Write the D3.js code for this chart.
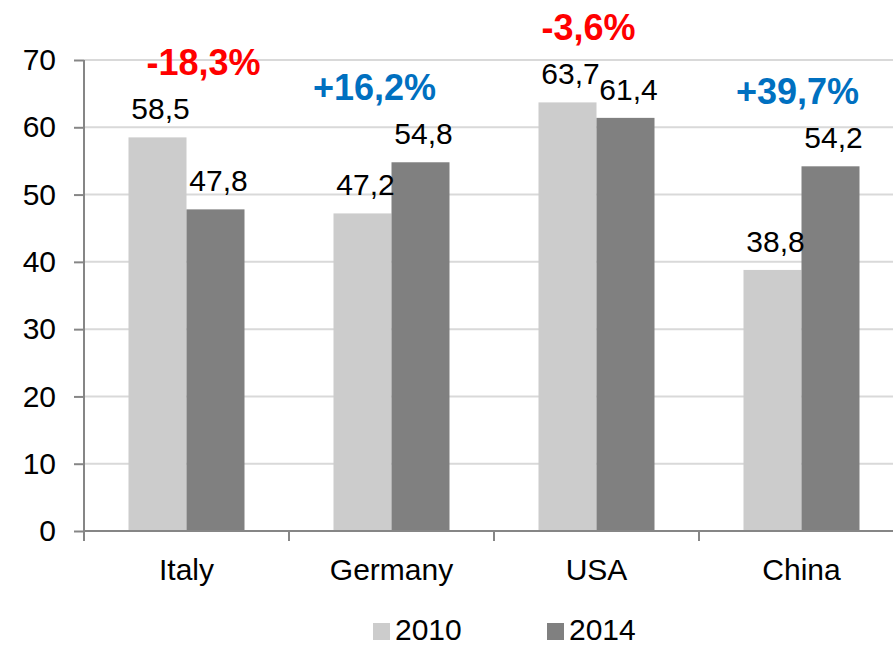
<!DOCTYPE html>
<html lang="en">
    <head>
        <meta charset="utf-8">
        <title>2010 vs 2014</title>
        <script type="text/javascript" src="https://cdn.jsdelivr.net/npm/d3@7"></script>
        <style>
            body { margin: 0; background: #fff; }
            svg text { font-family: "Liberation Sans", Arial, sans-serif; }
        </style>
    </head>
    <body>
        <div id="chart"></div>
        <script type="text/javascript">
            // data
            var categories = ["Italy", "Germany", "USA", "China"];
            var years = ["2010", "2014"];
            var values2010 = [58.5, 47.2, 63.7, 38.8];
            var values2014 = [47.8, 54.8, 61.4, 54.2];
            var changeLabels = ["-18,3%", "+16,2%", "-3,6%", "+39,7%"];
            var yTicks = [0, 10, 20, 30, 40, 50, 60, 70];

            // layout (note: "top" is taken by window.top, so plot* names)
            var w = 893;
            var h = 646;
            var plotLeft = 84, plotTop = 60, plotBottom = 531;
            var bandW = 205;
            var barColors = ["#cccccc", "#808080"];
            var pctDx = [17, -17, -8, -4];

            var svg = d3.select("#chart")
                        .append("svg")
                        .attr("width", w)
                        .attr("height", h);

            var xScale = d3.scaleBand()
                           .domain(categories)
                           .range([plotLeft, plotLeft + bandW * categories.length])
                           .padding(0);
            var x1 = d3.scaleBand()
                       .domain(years)
                       .range([44.5, bandW - 44.5])
                       .padding(0);
            var yScale = d3.scaleLinear()
                           .domain([0, 70])
                           .range([plotBottom, plotTop]);

            // gridlines
            svg.append("g")
               .selectAll("line")
               .data(yTicks.slice(1))
               .enter()
               .append("line")
               .attr("x1", plotLeft)
               .attr("x2", w)
               .attr("y1", function(d) { return yScale(d); })
               .attr("y2", function(d) { return yScale(d); })
               .attr("stroke", "#d9d9d9")
               .attr("stroke-width", 2);

            // bars
            var rows = categories.map(function(c, i) {
                return { cat: c, vals: [values2010[i], values2014[i]] };
            });
            var groups = svg.append("g")
                            .selectAll("g")
                            .data(rows)
                            .enter()
                            .append("g")
                            .attr("transform", function(d) { return "translate(" + xScale(d.cat) + ",0)"; });
            groups.selectAll("rect")
                  .data(function(d) { return d.vals; })
                  .enter()
                  .append("rect")
                  .attr("x", function(d, j) { return x1(years[j]); })
                  .attr("y", function(d) { return yScale(d); })
                  .attr("width", x1.bandwidth())
                  .attr("height", function(d) { return plotBottom - yScale(d); })
                  .attr("fill", function(d, j) { return barColors[j]; });
            groups.selectAll("text")
                  .data(function(d) { return d.vals; })
                  .enter()
                  .append("text")
                  .attr("x", function(d, j) { return x1(years[j]) + x1.bandwidth() / 2 + 3; })
                  .attr("y", function(d) { return yScale(d) - 18; })
                  .attr("text-anchor", "middle")
                  .attr("font-size", 30)
                  .attr("fill", "#000")
                  .text(function(d) { return d.toFixed(1).replace(".", ","); });

            // change labels
            svg.append("g")
               .selectAll("text")
               .data(rows)
               .enter()
               .append("text")
               .attr("x", function(d, i) { return xScale(d.cat) + bandW / 2 + pctDx[i]; })
               .attr("y", function(d) { return yScale(d3.max(d.vals)) - 62; })
               .attr("text-anchor", "middle")
               .attr("font-size", 36)
               .attr("font-weight", "bold")
               .attr("fill", function(d, i) { return changeLabels[i][0] === "-" ? "#ff0000" : "#0070c0"; })
               .text(function(d, i) { return changeLabels[i]; });

            // y axis
            var yAxis = d3.axisLeft(yScale).tickValues(yTicks).tickSize(10).tickPadding(18);
            var gy = svg.append("g")
                        .attr("transform", "translate(" + plotLeft + ",0)")
                        .call(yAxis);
            gy.select(".domain").attr("stroke", "#868686").attr("stroke-width", 2)
              .attr("d", "M0," + plotTop + "V" + (plotBottom + 10));
            gy.selectAll(".tick line").attr("stroke", "#868686").attr("stroke-width", 2);
            gy.selectAll(".tick text")
              .attr("font-size", 30)
              .attr("font-family", "Liberation Sans, Arial, sans-serif")
              .attr("fill", "#000");

            // x axis
            var gx = svg.append("g")
                        .attr("transform", "translate(0," + plotBottom + ")");
            gx.append("line")
              .attr("x1", plotLeft).attr("x2", w)
              .attr("stroke", "#868686").attr("stroke-width", 2);
            gx.selectAll(".cat-tick")
              .data(categories)
              .enter()
              .append("line")
              .attr("class", "cat-tick")
              .attr("x1", function(d) { return xScale(d); })
              .attr("x2", function(d) { return xScale(d); })
              .attr("y1", 0).attr("y2", 10)
              .attr("stroke", "#868686").attr("stroke-width", 2);
            gx.selectAll(".cat-label")
              .data(categories)
              .enter()
              .append("text")
              .attr("class", "cat-label")
              .attr("x", function(d) { return xScale(d) + bandW / 2; })
              .attr("y", 49)
              .attr("text-anchor", "middle")
              .attr("font-size", 30)
              .attr("fill", "#000")
              .text(function(d) { return d; });

            // legend
            var legend = svg.append("g")
                            .selectAll("g")
                            .data(years)
                            .enter()
                            .append("g")
                            .attr("transform", function(d, i) { return "translate(" + (373 + i * 174) + ",623)"; });
            legend.append("rect")
                  .attr("width", 17).attr("height", 17)
                  .attr("fill", function(d, i) { return barColors[i]; });
            legend.append("text")
                  .attr("x", 22)
                  .attr("y", 17)
                  .attr("font-size", 30)
                  .attr("fill", "#000")
                  .text(function(d) { return d; });
        </script>
    </body>
</html>
